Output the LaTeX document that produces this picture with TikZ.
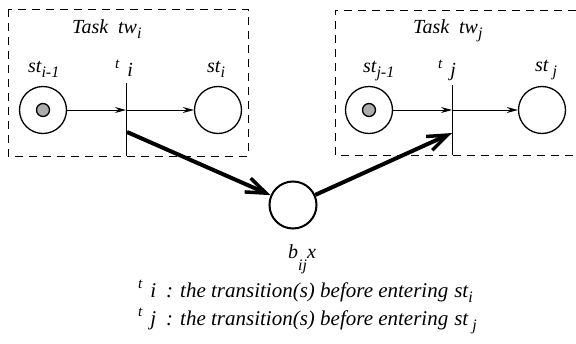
\documentclass[tikz,border=0pt]{standalone}
\usepackage{fontspec}
\setmainfont{Liberation Serif}
\usetikzlibrary{arrows.meta}
\newcommand{\subtx}[1]{\raisebox{-0.25em}{\fontsize{16}{16}\selectfont #1}}
\newcommand{\suptx}[1]{\raisebox{0.4em}{\fontsize{15}{15}\selectfont #1}}
\tikzset{
	place/.style={circle, draw, line width=1.3pt, minimum size=47pt, inner sep=0pt},
	token/.style={circle, draw, fill=gray!65, line width=1.3pt, minimum size=13pt, inner sep=0pt},
	bar/.style={line width=1pt},
	lbl/.style={font=\fontsize{20}{24}\selectfont\itshape, inner sep=0pt, anchor=base west},
	legend/.style={lbl, font=\fontsize{21}{24}\selectfont\itshape},
	thin arc/.style={line width=1pt, -{Stealth[length=11pt,width=6pt]}},
	thick arc/.style={line width=4pt, -{Straight Barb[length=20pt,width=15pt,line width=3.5pt]}},
	taskbox/.style={line width=1pt, dash pattern=on 8pt off 6pt}
}

\begin{document}
\begin{tikzpicture}[x=1pt,y=-1pt]
		\useasboundingbox (0,0) rectangle (576,343);
		% task boxes
		\draw[taskbox] (8,9) rectangle (248,156);
		\draw[taskbox] (576,10) -- (335,10) -- (335,155) -- (576,155);
		\node[lbl] (taski) at (72,33) {Task\ \ tw\subtx{i}};
		\node[lbl] (taskj) at (413,33) {Task\ \ tw\subtx{j}};
		% places
		\node[place] (stim) at (43,110) {};
		\node[token] (tokeni) at (stim) {};
		\node[place] (sti) at (218,110) {};
		\node[place] (stjm) at (369,110) {};
		\node[token] (tokenj) at (stjm) {};
		\node[place] (stj) at (542,110) {};
		\node[place, line width=2pt] (bij) at (293,205) {};
		% transitions
		\coordinate (tiTop) at (126,83);  \coordinate (tiBot) at (126,156);
		\coordinate (ti) at (126,110);    \coordinate (tiOut) at (127,132);
		\coordinate (tjTop) at (452,85);  \coordinate (tjBot) at (452,155);
		\coordinate (tj) at (452,110);    \coordinate (tjIn) at (452,133);
		\draw[bar] (tiTop) -- (tiBot);
		\draw[bar] (tjTop) -- (tjBot);
		% arcs
		\draw[thin arc] (stim) -- (ti);
		\draw[thin arc] (ti) -- (sti);
		\draw[thin arc] (stjm) -- (tj);
		\draw[thin arc] (tj) -- (stj);
		\draw[thick arc] (tiOut) -- (bij);
		\draw[thick arc] (bij) -- (tjIn);
		% labels
		\node[lbl] (lstim) at (28,72) {st\subtx{i-1}};
		\node[lbl] (lti) at (115,76) {\suptx{t}\hspace{8pt}i};
		\node[lbl] (lsti) at (207,72) {st\subtx{i}};
		\node[lbl] (lstjm) at (363,72) {st\subtx{j-1}};
		\node[lbl] (ltj) at (438,76) {\suptx{t}\hspace{8pt}j};
		\node[lbl] (lstj) at (535,71) {st\hspace{4pt}\subtx{j}};
		\node[lbl] (lbij) at (288,258) {b\raisebox{-12pt}{\fontsize{16}{16}\selectfont ij}x};
		% legend
		\node[legend] (legi) at (138,297) {\suptx{t}\hspace{8pt}i\hspace{10pt}: the transition(s) before entering\hspace{6pt}st\subtx{i}};
		\node[legend] (legj) at (138,325) {\suptx{t}\hspace{8pt}j\hspace{10pt}: the transition(s) before entering\hspace{6pt}st\hspace{4pt}\subtx{j}};
\end{tikzpicture}
\end{document}
